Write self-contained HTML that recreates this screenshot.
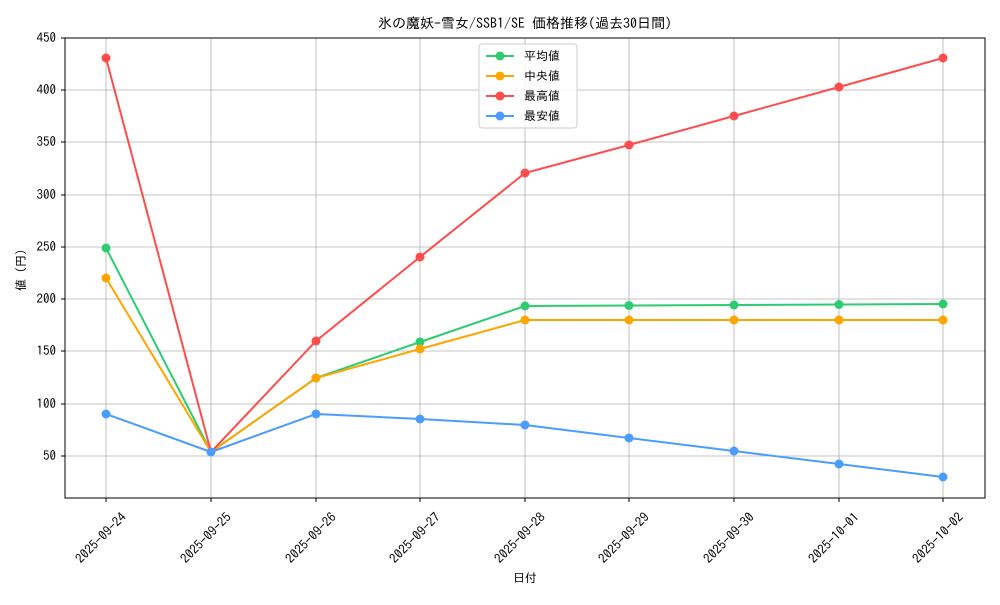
<!DOCTYPE html>
<html><head><meta charset="utf-8"><style>
body{margin:0;background:#fff;}
svg text{font-family:"IPAGothic","Noto Sans CJK JP",sans-serif;font-size:12px;fill:#000;}
.t{font-size:13px;}
</style></head><body>
<svg width="1000" height="600" xmlns="http://www.w3.org/2000/svg">
<rect width="1000" height="600" fill="#fff"/>
<text x="525" y="28" text-anchor="middle" style="font-size:14px">氷の魔妖-雪女/SSB1/SE 価格推移(過去30日間)</text>
<g stroke="#b0b0b0" stroke-width="0.8">
<line x1="106" y1="38" x2="106" y2="498"/><line x1="211" y1="38" x2="211" y2="498"/><line x1="316" y1="38" x2="316" y2="498"/><line x1="420" y1="38" x2="420" y2="498"/><line x1="525" y1="38" x2="525" y2="498"/><line x1="629" y1="38" x2="629" y2="498"/><line x1="734" y1="38" x2="734" y2="498"/><line x1="839" y1="38" x2="839" y2="498"/><line x1="943" y1="38" x2="943" y2="498"/>
<line x1="65" y1="456" x2="985" y2="456"/><line x1="65" y1="404" x2="985" y2="404"/><line x1="65" y1="351" x2="985" y2="351"/><line x1="65" y1="299" x2="985" y2="299"/><line x1="65" y1="247" x2="985" y2="247"/><line x1="65" y1="195" x2="985" y2="195"/><line x1="65" y1="142" x2="985" y2="142"/><line x1="65" y1="90" x2="985" y2="90"/><line x1="65" y1="38" x2="985" y2="38"/>
</g>
<rect x="65" y="38" width="920" height="460" fill="none" stroke="#000" stroke-width="1"/>
<g text-anchor="end" class="t">
<text class="t" x="56" y="460">50</text><text class="t" x="56" y="408">100</text><text class="t" x="56" y="355">150</text><text class="t" x="56" y="303">200</text><text class="t" x="56" y="251">250</text><text class="t" x="56" y="199">300</text><text class="t" x="56" y="146">350</text><text class="t" x="56" y="94">400</text><text class="t" x="56" y="42">450</text>
</g>
<g stroke="#000"><line x1="61" y1="456" x2="65" y2="456"/><line x1="61" y1="404" x2="65" y2="404"/><line x1="61" y1="351" x2="65" y2="351"/><line x1="61" y1="299" x2="65" y2="299"/><line x1="61" y1="247" x2="65" y2="247"/><line x1="61" y1="195" x2="65" y2="195"/><line x1="61" y1="142" x2="65" y2="142"/><line x1="61" y1="90" x2="65" y2="90"/><line x1="61" y1="38" x2="65" y2="38"/>
<line x1="106" y1="498" x2="106" y2="502"/><line x1="211" y1="498" x2="211" y2="502"/><line x1="316" y1="498" x2="316" y2="502"/><line x1="420" y1="498" x2="420" y2="502"/><line x1="525" y1="498" x2="525" y2="502"/><line x1="629" y1="498" x2="629" y2="502"/><line x1="734" y1="498" x2="734" y2="502"/><line x1="839" y1="498" x2="839" y2="502"/><line x1="943" y1="498" x2="943" y2="502"/></g>
<g text-anchor="middle">
<text class="t" transform="translate(104,541) rotate(-45)">2025-09-24</text><text class="t" transform="translate(209,541) rotate(-45)">2025-09-25</text><text class="t" transform="translate(314,541) rotate(-45)">2025-09-26</text><text class="t" transform="translate(418,541) rotate(-45)">2025-09-27</text><text class="t" transform="translate(523,541) rotate(-45)">2025-09-28</text><text class="t" transform="translate(627,541) rotate(-45)">2025-09-29</text><text class="t" transform="translate(732,541) rotate(-45)">2025-09-30</text><text class="t" transform="translate(837,541) rotate(-45)">2025-10-01</text><text class="t" transform="translate(941,541) rotate(-45)">2025-10-02</text>
</g>
<text x="525" y="582" text-anchor="middle">日付</text>
<text transform="translate(25,270) rotate(-90)" text-anchor="middle">値 (円)</text>
<g fill="none" stroke-width="2">
<polyline stroke="#2ecc71" points="106,248 211,452 316,378 420,342 525,306 629,305.5 734,305 839,304.5 943,304"/>
<polyline stroke="#ffa500" points="106,278 211,452 316,378 420,349 525,320 629,320 734,320 839,320 943,320"/>
<polyline stroke="#ff4c4c" points="106,58 211,452 316,341 420,257 525,173 629,145 734,116 839,87 943,58"/>
<polyline stroke="#4a9dff" points="106,414 211,452 316,414 420,419 525,425 629,438 734,451 839,464 943,477"/>
</g>
<g fill="#2ecc71"><circle cx="106" cy="248" r="4.5"/><circle cx="316" cy="378" r="4.5"/><circle cx="420" cy="342" r="4.5"/><circle cx="525" cy="306" r="4.5"/><circle cx="629" cy="305.5" r="4.5"/><circle cx="734" cy="305" r="4.5"/><circle cx="839" cy="304.5" r="4.5"/><circle cx="943" cy="304" r="4.5"/></g>
<g fill="#ffa500"><circle cx="106" cy="278" r="4.5"/><circle cx="316" cy="378" r="4.5"/><circle cx="420" cy="349" r="4.5"/><circle cx="525" cy="320" r="4.5"/><circle cx="629" cy="320" r="4.5"/><circle cx="734" cy="320" r="4.5"/><circle cx="839" cy="320" r="4.5"/><circle cx="943" cy="320" r="4.5"/></g>
<g fill="#ff4c4c"><circle cx="106" cy="58" r="4.5"/><circle cx="316" cy="341" r="4.5"/><circle cx="420" cy="257" r="4.5"/><circle cx="525" cy="173" r="4.5"/><circle cx="629" cy="145" r="4.5"/><circle cx="734" cy="116" r="4.5"/><circle cx="839" cy="87" r="4.5"/><circle cx="943" cy="58" r="4.5"/></g>
<g fill="#4a9dff"><circle cx="106" cy="414" r="4.5"/><circle cx="211" cy="452" r="4.5"/><circle cx="316" cy="414" r="4.5"/><circle cx="420" cy="419" r="4.5"/><circle cx="525" cy="425" r="4.5"/><circle cx="629" cy="438" r="4.5"/><circle cx="734" cy="451" r="4.5"/><circle cx="839" cy="464" r="4.5"/><circle cx="943" cy="477" r="4.5"/></g>
<rect x="479" y="44" width="98" height="84" rx="3" fill="#fff" fill-opacity="0.85" stroke="#ccc"/>
<g stroke-width="2">
<line x1="486" y1="56" x2="514" y2="56" stroke="#2ecc71"/><circle cx="500" cy="56" r="4.5" fill="#2ecc71"/>
<line x1="486" y1="76" x2="514" y2="76" stroke="#ffa500"/><circle cx="500" cy="76" r="4.5" fill="#ffa500"/>
<line x1="486" y1="96" x2="514" y2="96" stroke="#ff4c4c"/><circle cx="500" cy="96" r="4.5" fill="#ff4c4c"/>
<line x1="486" y1="116" x2="514" y2="116" stroke="#4a9dff"/><circle cx="500" cy="116" r="4.5" fill="#4a9dff"/>
</g>
<text x="524" y="60">平均値</text><text x="524" y="80">中央値</text><text x="524" y="100">最高値</text><text x="524" y="120">最安値</text>
</svg>
</body></html>
